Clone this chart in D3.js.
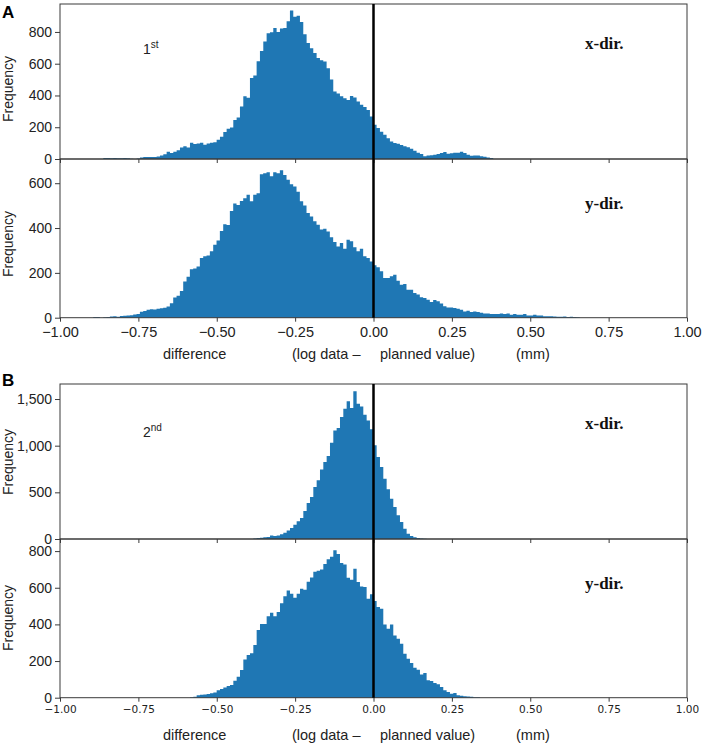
<!DOCTYPE html>
<html>
<head>
<meta charset="utf-8">
<script src="https://cdn.jsdelivr.net/npm/d3@7"></script>
<style>
  html, body { margin: 0; padding: 0; background: #fff; }
  svg { display: block; }
</style>
</head>
<body>
<svg id="chart" width="708" height="746"></svg>
<script>
// ---------------- DATA ----------------
const binWidth = 0.01063;
const xTicks = [-1, -0.75, -0.5, -0.25, 0, 0.25, 0.5, 0.75, 1];

// A – 1st, x-dir.
const a1Start = -0.8618;
const a1Counts = [6,6,4,6,5,5,6,5,2,0,3,10,12,12,12,13,16,22,30,45,38,45,55,72,80,72,102,95,98,103,90,97,102,106,122,140,170,190,198,245,262,330,395,385,510,525,615,680,740,792,798,825,800,822,825,868,935,895,902,862,785,730,698,668,636,622,614,572,500,425,412,395,382,372,396,388,362,342,328,308,268,215,195,172,152,130,110,100,96,88,80,74,65,52,40,32,18,22,23,27,32,38,44,33,36,40,40,45,38,27,20,22,22,18,14,10,6];
const a1YTicks = [0, 200, 400, 600, 800];

// A – 1st, y-dir.
const a2Start = -0.894;
const a2Counts = [3,3,0,2,3,5,6,4,8,9,10,11,14,16,26,30,36,38,37,40,42,44,50,65,90,98,119,161,183,216,220,228,266,274,277,296,326,344,387,417,414,476,510,503,521,533,548,519,548,555,640,644,649,631,649,644,658,637,615,595,585,562,519,500,467,452,430,415,393,397,385,359,338,318,333,308,348,341,314,296,308,274,266,251,234,225,207,177,177,185,192,165,147,150,125,125,110,103,91,88,80,70,79,73,63,51,46,46,43,40,36,28,31,25,28,25,22,19,19,16,16,16,19,16,19,13,16,13,13,16,10,10,13,10,10,7,7,6,5,4,4,5,3,4,3,2];
const a2YTicks = [0, 200, 400, 600];

// B – 2nd, x-dir.
const b1Start = -0.3833;
const b1Counts = [5,10,14,18,22,38,32,38,50,68,90,118,154,189,225,300,385,450,557,629,746,825,889,1032,1164,1189,1307,1396,1475,1404,1582,1450,1420,1332,1271,1175,1004,879,771,646,532,432,343,254,182,111,57,32,18,11,5,3];
const b1YTicks = [0, 500, 1000, 1500];

// B – 2nd, y-dir.
const b2Start = -0.5853;
const b2Counts = [3,5,13,16,17,20,24,28,40,47,55,64,69,93,115,151,209,233,242,287,369,402,402,445,464,445,467,516,553,585,567,545,567,595,589,633,656,687,693,700,729,755,769,804,784,735,727,655,644,704,631,607,604,540,564,527,495,485,400,376,400,340,322,295,240,213,189,164,153,127,135,95,91,80,73,58,40,31,22,25,13,10,8,6,5,3,2];
const b2YTicks = [0, 200, 400, 600, 800];

const groupLetters = ["A", "B"];
const roundLabels = ["1", "2"];
const roundSup = ["st", "nd"];
const dirLabels = ["x-dir.", "y-dir."];
const xLabelParts = ["difference", "(log data –", "planned value)", "(mm)"];

// ---------------- LAYOUT ----------------
const svg = d3.select("#chart");
const sans = "'Liberation Sans', Arial, sans-serif";
const serif = "'Liberation Serif', 'Times New Roman', serif";
const barColor = "#1f77b4";
const spineColor = "#3a3a3a";

const x = d3.scaleLinear().domain([-1, 1]).range([60, 687]);

const panels = [
  {start: a1Start, counts: a1Counts, yTicks: a1YTicks, ymax: 976,  top: 4,     bottom: 159,   fmt: d3.format("d"), dir: 0, ylab: 89},
  {start: a2Start, counts: a2Counts, yTicks: a2YTicks, ymax: 708,  top: 159,   bottom: 317.7, fmt: d3.format("d"), dir: 1, ylab: 244},
  {start: b1Start, counts: b1Counts, yTicks: b1YTicks, ymax: 1661, top: 384,   bottom: 539,   fmt: d3.format(","), dir: 0, ylab: 462},
  {start: b2Start, counts: b2Counts, yTicks: b2YTicks, ymax: 866,  top: 539,   bottom: 697.7, fmt: d3.format("d"), dir: 1, ylab: 618}
];

panels.forEach((p, pi) => {
  const y = d3.scaleLinear().domain([0, p.ymax]).range([p.bottom, p.top]);
  const g = svg.append("g");

  // histogram bars as one stepped area (no seams between adjacent bins)
  const pts = p.counts.map((c, i) => ({x0: p.start + i * binWidth, c}));
  pts.push({x0: p.start + p.counts.length * binWidth, c: 0});
  const area = d3.area()
    .curve(d3.curveStepAfter)
    .x(d => x(d.x0))
    .y0(y(0))
    .y1(d => y(d.c));
  g.append("path").datum(pts).attr("d", area).attr("fill", barColor);

  // frame
  g.append("rect")
    .attr("x", x(-1)).attr("y", p.top)
    .attr("width", x(1) - x(-1)).attr("height", p.bottom - p.top)
    .attr("fill", "none").attr("stroke", spineColor).attr("stroke-width", 1);

  // x axis
  const isBottom = (pi % 2 === 1);
  const xAxis = d3.axisBottom(x).tickValues(xTicks).tickSizeOuter(0).tickSize(4).tickPadding(isBottom && pi === 1 ? 5 : 4)
    .tickFormat(isBottom ? d3.format(".2f") : "");
  const xa = g.append("g").attr("transform", `translate(0,${p.bottom})`).call(xAxis);
  xa.select(".domain").remove();
  xa.selectAll("line").attr("stroke", spineColor);
  if (pi === 1) {
    xa.selectAll("text").attr("font-family", sans).attr("font-size", 14.5).attr("fill", "#222");
  } else if (pi === 3) {
    xa.selectAll("text").attr("font-family", "'DejaVu Sans', sans-serif").attr("font-size", 10.5).attr("fill", "#222");
  }

  // y axis
  const yAxis = d3.axisLeft(y).tickValues(p.yTicks).tickSize(5).tickSizeOuter(0).tickPadding(3).tickFormat(p.fmt);
  const ya = g.append("g").attr("transform", `translate(${x(-1)},0)`).call(yAxis);
  ya.select(".domain").remove();
  ya.selectAll("line").attr("stroke", spineColor);
  ya.selectAll("text").attr("font-family", sans).attr("font-size", 14).attr("fill", "#222");

  // y label
  g.append("text")
    .attr("transform", `translate(13,${p.ylab}) rotate(-90)`)
    .attr("text-anchor", "middle")
    .attr("font-family", sans).attr("font-size", 14).attr("fill", "#222")
    .text("Frequency");

  // direction label
  g.append("text")
    .attr("x", 585).attr("y", p.top + (p.dir === 0 ? 44.5 : 49.5))
    .attr("font-family", serif).attr("font-weight", "bold").attr("font-size", 17).attr("fill", "#111")
    .text(dirLabels[p.dir]);
});

// zero reference lines
[[4, 317.7], [384, 697.7]].forEach(([t, b]) => {
  svg.append("line")
    .attr("x1", x(0)).attr("x2", x(0)).attr("y1", t).attr("y2", b)
    .attr("stroke", "#000").attr("stroke-width", 2.5);
});

// group letters
[[2, 18], [2, 386]].forEach(([lx, ly], i) => {
  svg.append("text").attr("x", lx).attr("y", ly)
    .attr("font-family", sans).attr("font-weight", "bold").attr("font-size", 17)
    .text(groupLetters[i]);
});

// round labels
[[143, 54], [143, 437]].forEach(([lx, ly], i) => {
  const t = svg.append("text").attr("x", lx).attr("y", ly)
    .attr("font-family", sans).attr("font-size", 14).attr("fill", "#222");
  t.append("tspan").text(roundLabels[i]);
  t.append("tspan").attr("dy", -6).attr("font-size", 10).text(roundSup[i]);
});

// x-axis title lines
const titleX = [163, 292, 380, 516];
[359, 740].forEach(by => {
  xLabelParts.forEach((s, i) => {
    svg.append("text").attr("x", titleX[i]).attr("y", by)
      .attr("font-family", sans).attr("font-size", 14.5).attr("fill", "#222")
      .text(s);
  });
});
</script>
</body>
</html>
